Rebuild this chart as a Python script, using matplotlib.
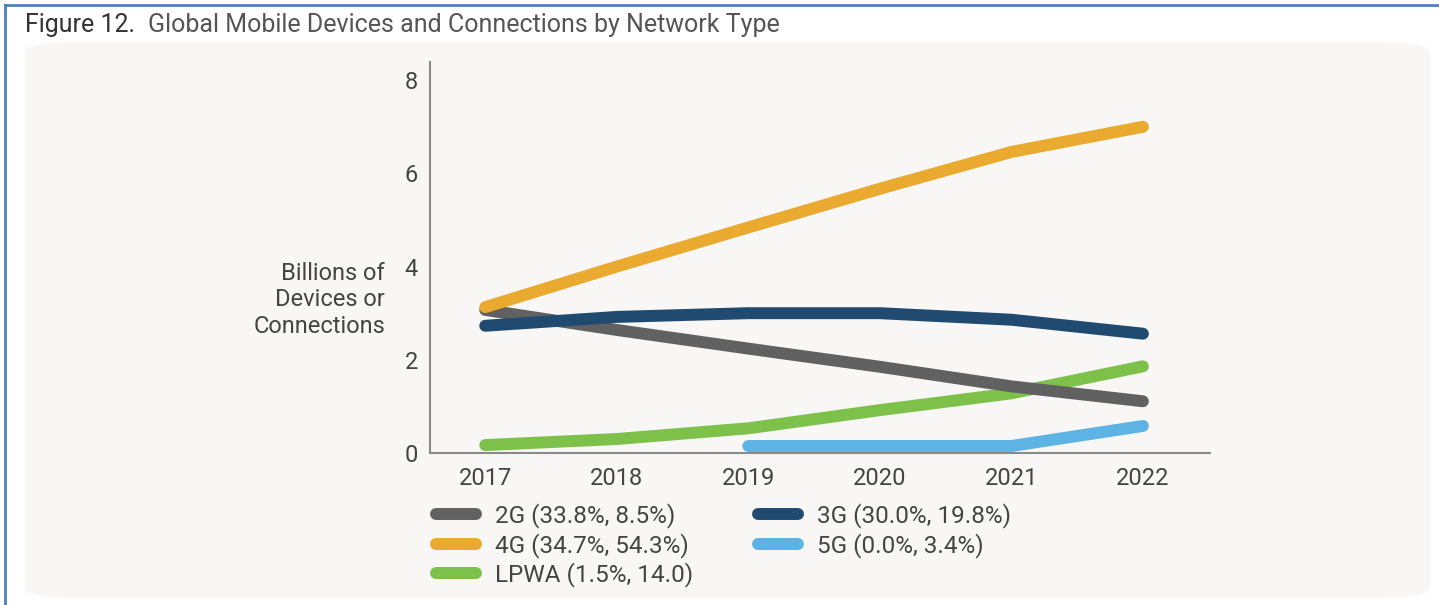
import matplotlib.pyplot as plt
from matplotlib.patches import FancyBboxPatch
from matplotlib.lines import Line2D

plt.rcParams['font.family'] = ['Roboto', 'DejaVu Sans']

years = [2017, 2018, 2019, 2020, 2021, 2022]
g2 = [3.07, 2.64, 2.24, 1.85, 1.43, 1.11]
g3 = [2.73, 2.92, 3.00, 3.00, 2.86, 2.56]
g4 = [3.13, 4.00, 4.84, 5.67, 6.46, 7.00]
lpwa = [0.17, 0.30, 0.53, 0.92, 1.28, 1.86]
years_5g = [2019, 2020, 2021, 2022]
g5 = [0.15, 0.15, 0.15, 0.58]

labels = {
    '2G': '2G (33.8%, 8.5%)',
    '3G': '3G (30.0%, 19.8%)',
    '4G': '4G (34.7%, 54.3%)',
    '5G': '5G (0.0%, 3.4%)',
    'LPWA': 'LPWA (1.5%, 14.0)',
}
colors = {
    '2G': '#616161',
    '3G': '#214a70',
    '4G': '#e9aa2f',
    '5G': '#5cb3e4',
    'LPWA': '#7dc04a',
}

fig = plt.figure(figsize=(14.39, 6.05), dpi=100)
fig.patch.set_facecolor('white')

# outer blue frame (top and left edges)
fig.add_artist(Line2D([5/1439, 1], [1 - 5/605, 1 - 5/605], color='#4f81bd', lw=2))
fig.add_artist(Line2D([5/1439, 5/1439], [0, 1 - 5/605], color='#4f81bd', lw=2))

# rounded grey panel behind the chart
panel = FancyBboxPatch((25/1439, 7/605), 1405/1439, 556/605,
                       boxstyle='round,pad=0,rounding_size=0.04',
                       transform=fig.transFigure, facecolor='#f8f7f5',
                       edgecolor='none', mutation_aspect=605/1439, zorder=-10)
fig.add_artist(panel)

fig.text(25/1439, 1 - 25/605, 'Figure 12.', fontsize=18, color='#333333',
         va='center', ha='left')
fig.text(148/1439, 1 - 25/605, 'Global Mobile Devices and Connections by Network Type',
         fontsize=18, color='#555555', va='center', ha='left')

ax = fig.add_axes([430/1439, 1 - 453/605, 780/1439, 391/605])
ax.set_facecolor('none')

lw = 8.6
ax.plot(years, lpwa, color=colors['LPWA'], lw=lw, solid_capstyle='round', solid_joinstyle='round')
ax.plot(years_5g, g5, color=colors['5G'], lw=lw, solid_capstyle='round', solid_joinstyle='round')
ax.plot(years, g2, color=colors['2G'], lw=lw, solid_capstyle='round', solid_joinstyle='round')
ax.plot(years, g3, color=colors['3G'], lw=lw, solid_capstyle='round', solid_joinstyle='round')
ax.plot(years, g4, color=colors['4G'], lw=lw, solid_capstyle='round', solid_joinstyle='round')

ax.set_xlim(2016.58, 2022.51)
ax.set_ylim(0, 8.39)
ax.set_xticks(years)
ax.set_yticks([0, 2, 4, 6, 8])
ax.tick_params(length=0, labelsize=17, labelcolor='#444444')
ax.tick_params(axis='x', pad=10)
ax.tick_params(axis='y', pad=8.6)
for s in ['top', 'right']:
    ax.spines[s].set_visible(False)
for s in ['left', 'bottom']:
    ax.spines[s].set_color('#8a8a8a')
    ax.spines[s].set_linewidth(1.5)

fig.text(385/1439, 1 - 300/605, 'Billions of\nDevices or\nConnections', fontsize=17,
         color='#444444', ha='right', va='center', linespacing=1.2)

order = ['2G', '4G', 'LPWA', '3G', '5G']
handles = [Line2D([], [], color=colors[k], lw=lw, solid_capstyle='round') for k in order]
fig.legend(handles, [labels[k] for k in order], ncol=2, frameon=False,
           loc='upper left', bbox_to_anchor=(436/1439, 1 - 503/605),
           fontsize=17.5, labelcolor='#444444', handlelength=1.65, handletextpad=0.76,
           columnspacing=2.7, labelspacing=0.2, borderaxespad=0, borderpad=0)

fig.savefig('out.png', dpi=100)
